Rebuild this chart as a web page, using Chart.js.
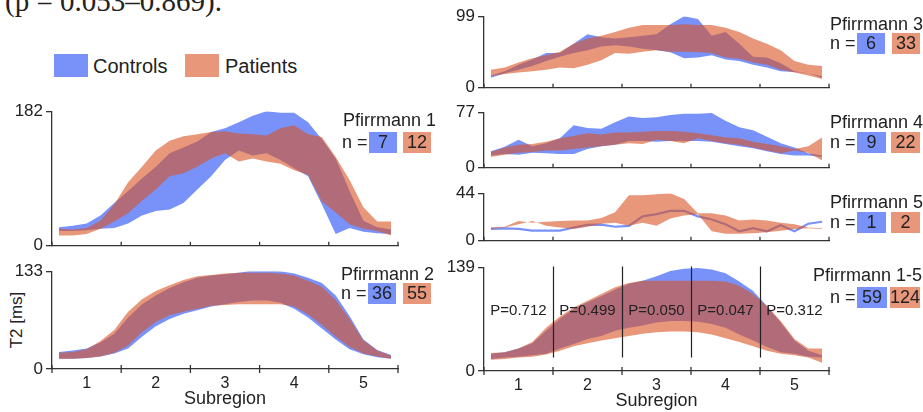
<!DOCTYPE html>
<html>
<head>
<meta charset="utf-8">
<script src="https://cdn.jsdelivr.net/npm/chart.js@4.4.1/dist/chart.umd.min.js"></script>
<style>
  body { margin: 0; background: #fff; }
  #wrap { position: relative; width: 923px; height: 412px; overflow: hidden; background: #fff;
          font-family: "Liberation Sans", Arial, sans-serif; color: #222; }
  .txt { position: absolute; white-space: nowrap; }
  .box { position: absolute; height: 21px; line-height: 21px; text-align: center; font-size: 18px; }
</style>
</head>
<body>
<div id="wrap">
  <div class="txt" style="left:5px;top:-13px;font:29px/29px 'Liberation Serif','Times New Roman',serif;">(p = 0.053–0.869).</div>
  <div class="txt" style="left:54px;top:54px;width:34px;height:23px;background:#7892fa;"></div>
  <div class="txt" style="left:93px;top:55px;font-size:20px;line-height:22px;">Controls</div>
  <div class="txt" style="left:185px;top:54px;width:34px;height:23px;background:#e8977a;"></div>
  <div class="txt" style="left:225px;top:55px;font-size:20px;line-height:22px;">Patients</div>
  <div class="txt" style="left:16px;top:320px;font-size:17px;line-height:17px;transform:translate(-50%,-50%) rotate(-90deg);">T2 [ms]</div>
</div>
<script>
// x positions along the disc (subregion units)
const xs = [0.6, 0.8, 1.0, 1.2, 1.4, 1.6, 1.8, 2.0, 2.2, 2.4, 2.6, 2.8, 3.0,
            3.2, 3.4, 3.6, 3.8, 4.0, 4.2, 4.4, 4.6, 4.8, 5.0, 5.2, 5.4];
const subregions = [1, 2, 3, 4, 5];
const tickEdges = [0.5, 1.5, 2.5, 3.5, 4.5, 5.5];
const dividers = [1.5, 2.5, 3.5, 4.5];
const pLabels = ["P=0.712", "P=0.499", "P=0.050", "P=0.047", "P=0.312"];

// Pfirrmann 1
const p1CtlUp = [25, 27, 30, 41, 58, 74, 91, 107, 125, 133, 141, 154, 159, 167, 176, 182, 180, 180, 167, 144, 118, 74, 34, 25, 22];
const p1CtlLo = [20, 20, 21, 23, 24, 30, 41, 47, 49, 58, 76, 94, 116, 129, 122, 125, 116, 105, 94, 56, 16, 24, 19, 17, 16];
const p1PatUp = [23, 22, 24, 34, 56, 86, 107, 129, 142, 148, 151, 154, 155, 152, 151, 149, 159, 163, 151, 147, 120, 89, 52, 33, 33];
const p1PatLo = [14, 14, 16, 23, 33, 44, 61, 76, 94, 98, 107, 118, 125, 114, 118, 114, 111, 102, 96, 60, 45, 29, 23, 20, 14];
// Pfirrmann 2
const p2CtlUp = [23, 25, 28, 36, 48, 70, 88, 100, 110, 118, 124, 127, 129, 131, 134, 134, 133, 130, 124, 117, 100, 72, 40, 26, 19];
const p2CtlLo = [14, 14, 15, 17, 21, 28, 44, 58, 68, 75, 80, 85, 88, 91, 93, 93, 90, 82, 70, 55, 40, 27, 20, 16, 14];
const p2PatUp = [22, 23, 27, 38, 53, 78, 95, 106, 114, 121, 126, 128, 130, 131, 131, 131, 130, 127, 120, 112, 94, 68, 39, 25, 18];
const p2PatLo = [14, 14, 15, 17, 22, 32, 50, 64, 73, 78, 82, 86, 87, 88, 88, 88, 88, 85, 74, 60, 44, 30, 21, 17, 14];
// Pfirrmann 3
const p3CtlUp = [17, 23, 32, 39, 48, 48, 61, 74, 70, 68, 70, 72, 74, 88, 99, 95, 72, 77, 61, 43, 42, 34, 23, 20, 16];
const p3CtlLo = [14, 20, 25, 30, 37, 43, 48, 52, 57, 59, 57, 54, 52, 49, 41, 42, 45, 39, 37, 32, 28, 23, 22, 20, 14];
const p3PatUp = [25, 28, 35, 41, 45, 50, 61, 68, 72, 77, 83, 87, 87, 87, 88, 87, 87, 83, 77, 68, 61, 52, 37, 32, 30];
const p3PatLo = [16, 19, 21, 23, 25, 28, 27, 32, 38, 48, 47, 50, 52, 50, 50, 49, 48, 42, 40, 35, 32, 25, 21, 17, 12];
// Pfirrmann 4
const p4CtlUp = [23, 29, 39, 30, 34, 41, 59, 55, 54, 63, 71, 69, 70, 73, 75, 75, 76, 65, 56, 52, 43, 34, 28, 20, 17];
const p4CtlLo = [17, 19, 18, 21, 20, 19, 19, 26, 30, 32, 37, 37, 36, 37, 37, 37, 36, 33, 30, 27, 23, 19, 17, 17, 15];
const p4PatUp = [22, 28, 32, 33, 36, 41, 44, 48, 46, 49, 49, 50, 51, 51, 50, 48, 45, 42, 41, 36, 33, 30, 26, 30, 42];
const p4PatLo = [15, 18, 21, 22, 24, 24, 26, 28, 30, 32, 34, 33, 39, 37, 34, 41, 37, 34, 32, 28, 24, 20, 24, 21, 10];
// Pfirrmann 5 (one control only -> a line)
const p5Ctl = [11, 11.4, 11, 9.4, 9.4, 9.4, 12.3, 14.7, 15, 13, 13.8, 22.6, 24.6, 27.6, 27.6, 22.6, 19.7, 15.3, 8.8, 11.7, 8.8, 14.4, 8.8, 15.8, 17.6];
const p5PatUp = [12.3, 12.9, 18.2, 16.7, 17.6, 18.2, 18.8, 18.8, 21.1, 26.4, 42.2, 42.2, 43.1, 44, 38.7, 25.5, 25.5, 23.5, 18.8, 19.7, 18.8, 16.7, 15.3, 12.3, 11.7];
const p5PatLo = [10.9, 12.3, 15.3, 18.2, 13.8, 12.3, 10.9, 12.9, 15.8, 16.7, 13.8, 16.7, 13.8, 20.5, 23.5, 24.6, 8.8, 6.5, 6.5, 7, 7.9, 9.4, 10.9, 11.7, 10.9];
// Pfirrmann 1-5
const pAllCtlUp = [23, 25, 30, 37, 54, 70, 83, 92, 100, 109, 117, 121, 127, 134, 137, 138, 136, 131, 120, 107, 87, 65, 41, 27, 21];
const pAllCtlLo = [16, 18, 19, 21, 23, 30, 36, 43, 47, 54, 58, 61, 65, 67, 67, 66, 63, 58, 49, 41, 32, 25, 23, 19, 18];
const pAllPatUp = [24, 25, 30, 39, 58, 73, 85, 94, 103, 112, 118, 121, 121, 121, 121, 121, 121, 120, 114, 103, 87, 67, 43, 30, 30];
const pAllPatLo = [15, 16, 18, 19, 22, 27, 33, 37, 41, 44, 47, 50, 52, 53, 53, 52, 49, 44, 39, 33, 27, 23, 21, 18, 11];

const ctlColor = "rgba(30,73,247,0.6)";
const patColor = "rgba(217,82,33,0.6)";

Chart.defaults.font.family = '"Liberation Sans", Arial, sans-serif';
Chart.defaults.color = "#222";

const wrap = document.getElementById("wrap");

function pts(vals) {
  return vals.map((v, i) => ({ x: xs[i], y: v }));
}

// upper line filled down to the lower line
function band(upper, lower, color) {
  return [
    { data: pts(upper), fill: "+1", backgroundColor: color, borderColor: "transparent", borderWidth: 0, pointRadius: 0 },
    { data: pts(lower), fill: false, borderColor: "transparent", borderWidth: 0, pointRadius: 0 },
  ];
}

// small tick marks at the subregion borders, pointing into the plot
const edgeTicks = {
  id: "edgeTicks",
  afterDraw(chart, args, opts) {
    const { ctx, chartArea, scales: { x } } = chart;
    ctx.save();
    ctx.strokeStyle = "#333";
    ctx.lineWidth = 1.3;
    tickEdges.forEach((v) => {
      const px = x.getPixelForValue(v);
      ctx.beginPath();
      ctx.moveTo(px, chartArea.bottom - 4);
      ctx.lineTo(px, chartArea.bottom + opts.down);
      ctx.stroke();
    });
    ctx.restore();
  },
};

// dividers and p-values of the pooled panel
const pNotes = {
  id: "pNotes",
  afterDatasetsDraw(chart) {
    const { ctx, scales: { x, y } } = chart;
    ctx.save();
    ctx.strokeStyle = "#222";
    ctx.lineWidth = 1.2;
    dividers.forEach((v) => {
      const px = Math.round(x.getPixelForValue(v)) + 0.5;
      ctx.beginPath();
      ctx.moveTo(px, y.getPixelForValue(140));
      ctx.lineTo(px, y.getPixelForValue(18));
      ctx.stroke();
    });
    ctx.fillStyle = "#222";
    ctx.font = '15px "Liberation Sans", Arial, sans-serif';
    ctx.textAlign = "center";
    ctx.textBaseline = "middle";
    pLabels.forEach((t, i) => ctx.fillText(t, x.getPixelForValue(subregions[i]), y.getPixelForValue(81)));
    ctx.restore();
  },
};

function makePanel(area, yMax, datasets, bottom, extra) {
  const xh = bottom ? 41 : 12;
  const w = area.r - area.l + 56;
  const h = area.b - area.t + 12 + xh;
  const cv = document.createElement("canvas");
  cv.width = w;
  cv.height = h;
  cv.style.cssText = `position:absolute;left:${area.l - 50}px;top:${area.t - 12}px;width:${w}px;height:${h}px`;
  wrap.appendChild(cv);

  new Chart(cv, {
    type: "line",
    data: { datasets },
    options: {
      responsive: false,
      animation: false,
      devicePixelRatio: 1,
      layout: { padding: { top: 12, right: 6, left: 0, bottom: 0 } },
      plugins: {
        legend: { display: false },
        tooltip: { enabled: false },
        edgeTicks: { down: bottom ? 4 : 0 },
      },
      scales: {
        x: {
          type: "linear",
          min: 0.5,
          max: 5.5,
          afterBuildTicks: (ax) => { ax.ticks = subregions.map((v) => ({ value: v })); },
          afterFit: (ax) => { ax.height = xh; },
          grid: { display: false, drawTicks: false },
          border: { color: "#333", width: 1.3 },
          ticks: { display: bottom, font: { size: 16 }, color: "#222", padding: 5, maxRotation: 0, autoSkip: false },
          title: { display: bottom, text: "Subregion", font: { size: 18 }, color: "#222", padding: 0 },
        },
        y: {
          min: 0,
          max: yMax,
          afterBuildTicks: (ax) => { ax.ticks = [{ value: 0 }, { value: yMax }]; },
          afterFit: (ax) => { ax.width = 50; },
          grid: { drawOnChartArea: false, drawTicks: true, tickLength: 6, color: "#333", lineWidth: 1.3 },
          border: { color: "#333", width: 1.3 },
          ticks: { font: { size: 17 }, color: "#222", padding: 3 },
        },
      },
    },
    plugins: [edgeTicks].concat(extra || []),
  });
}

function addTag(tx, ty, ry, bx, ox, bw, title, nCtl, nPat) {
  const t = document.createElement("div");
  t.className = "txt";
  t.style.cssText = `left:${tx}px;top:${ty - 2}px;font-size:18px;line-height:18px;`;
  t.textContent = title;
  wrap.appendChild(t);
  const n = document.createElement("div");
  n.className = "txt";
  n.style.cssText = `left:${bx - 27}px;top:${ry}px;font-size:18px;line-height:21px;`;
  n.textContent = "n =";
  wrap.appendChild(n);
  [[bx, "#7892fa", nCtl], [ox, "#e8977a", nPat]].forEach(([x, c, v]) => {
    const b = document.createElement("div");
    b.className = "box";
    b.style.cssText += `left:${x}px;top:${ry}px;width:${bw}px;background:${c};`;
    b.textContent = v;
    wrap.appendChild(b);
  });
}

makePanel({ l: 52, r: 398, t: 110, b: 247 }, 182,
  band(p1PatUp, p1PatLo, patColor).concat(band(p1CtlUp, p1CtlLo, ctlColor)), false);
makePanel({ l: 52, r: 398, t: 270, b: 369 }, 133,
  band(p2PatUp, p2PatLo, patColor).concat(band(p2CtlUp, p2CtlLo, ctlColor)), true);
makePanel({ l: 484, r: 829, t: 15, b: 89 }, 99,
  band(p3PatUp, p3PatLo, patColor).concat(band(p3CtlUp, p3CtlLo, ctlColor)), false);
makePanel({ l: 484, r: 829, t: 111, b: 169 }, 77,
  band(p4PatUp, p4PatLo, patColor).concat(band(p4CtlUp, p4CtlLo, ctlColor)), false);
makePanel({ l: 484, r: 829, t: 192, b: 242 }, 44,
  band(p5PatUp, p5PatLo, patColor).concat([
    { data: pts(p5Ctl), fill: false, borderColor: ctlColor, borderWidth: 2.2, pointRadius: 0 },
  ]), false);
makePanel({ l: 484, r: 829, t: 266, b: 371 }, 139,
  band(pAllPatUp, pAllPatLo, patColor).concat(band(pAllCtlUp, pAllCtlLo, ctlColor)), true, [pNotes]);

addTag(343, 113, 132, 369, 403, 28, "Pfirrmann 1", 7, 12);
addTag(341, 267, 283, 368, 403, 28, "Pfirrmann 2", 36, 55);
addTag(830, 17, 33, 857, 892, 28, "Pfirrmann 3", 6, 33);
addTag(830, 115, 132, 857, 891, 29, "Pfirrmann 4", 9, 22);
addTag(830, 195, 212, 857, 891, 29, "Pfirrmann 5", 1, 2);
addTag(813, 268, 287, 857, 890, 30, "Pfirrmann 1-5", 59, 124);
</script>
</body>
</html>
